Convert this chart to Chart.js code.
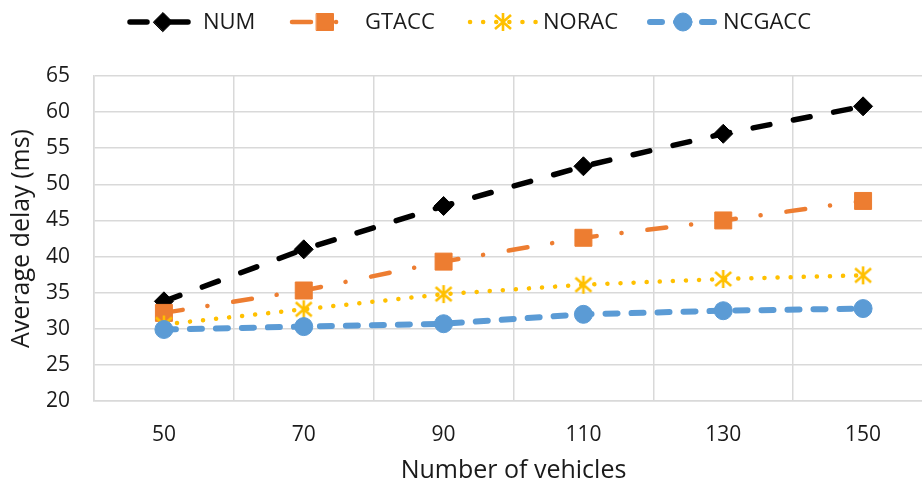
<!DOCTYPE html>
<html>
<head>
<meta charset="utf-8">
<script src="https://cdn.jsdelivr.net/npm/chart.js@4/dist/chart.umd.min.js"></script>
<style>
  html, body { margin: 0; padding: 0; background: #fff; overflow: hidden; }
  #wrap { width: 922px; height: 486px; overflow: hidden; position: relative; }
  #chart { position: absolute; left: 0; top: 0; width: 935px; height: 486px; }
</style>
</head>
<body>
<div id="wrap"><canvas id="chart" width="935" height="486"></canvas></div>
<script>
// chart data
const vehicles = ['50', '70', '90', '110', '130', '150'];
const numDelay = [33.8, 41.0, 47.0, 52.5, 57.0, 60.8];
const gtaccDelay = [32.2, 35.3, 39.3, 42.6, 45.0, 47.7];
const noracDelay = [30.6, 32.7, 34.8, 36.1, 36.9, 37.4];
const ncgaccDelay = [29.9, 30.3, 30.7, 32.0, 32.5, 32.8];
const yTicks = [20, 25, 30, 35, 40, 45, 50, 55, 60, 65];

const FONT = 'Open Sans';
const TEXT = '#1a1a1a';
const PLOT_RIGHT = 933; // plot runs a bit past the visible window, like the source

// Excel style asterisk marker (X plus vertical bar)
function makeStar(color) {
    const c = document.createElement('canvas');
    c.width = 20;
    c.height = 20;
    const g = c.getContext('2d');
    g.strokeStyle = color;
    g.lineWidth = 2.6;
    g.beginPath();
    g.moveTo(10, 1); g.lineTo(10, 19);
    g.moveTo(2, 3); g.lineTo(18, 17);
    g.moveTo(18, 3); g.lineTo(2, 17);
    g.stroke();
    return c;
}
const starImg = makeStar('#FFC000');

const series = [
    { label: 'NUM', data: numDelay, color: '#000000', dash: [17, 24], width: 5.5, point: 'rectRot', radius: 9.5, order: 4 },
    { label: 'GTACC', data: gtaccDelay, color: '#ED7D31', dash: [19, 25, 0.1, 26], width: 4.5, point: 'rect', radius: 12, order: 3 },
    { label: 'NORAC', data: noracDelay, color: '#FFC000', dash: [0.1, 13], width: 4.5, point: starImg, radius: 9, order: 2 },
    { label: 'NCGACC', data: ncgaccDelay, color: '#5B9BD5', dash: [12, 14], width: 6, point: 'circle', radius: 9, order: 1 }
];

// legend drawn by hand: line sample with marker in the middle, like Excel
const legendPlugin = {
    id: 'excelLegend',
    afterDraw(chart) {
        const ctx = chart.ctx;
        const starts = [128, 290, 468, 648];
        const y = 22;
        series.forEach((s, i) => {
            const x0 = starts[i];
            ctx.save();
            ctx.strokeStyle = s.color;
            ctx.lineWidth = s.width;
            ctx.lineCap = 'round';
            ctx.setLineDash(s.dash);
            ctx.beginPath();
            ctx.moveTo(x0 + 2, y);
            ctx.lineTo(x0 + 68, y);
            ctx.stroke();
            ctx.setLineDash([]);
            ctx.fillStyle = s.color;
            ctx.lineWidth = 1;
            Chart.helpers.drawPoint(ctx, { pointStyle: s.point, radius: s.radius, borderWidth: 1 }, x0 + 35, y);
            ctx.restore();
            ctx.save();
            ctx.fillStyle = TEXT;
            ctx.font = '22px "' + FONT + '"';
            ctx.textBaseline = 'middle';
            ctx.fillText(s.label, x0 + 75, y + 1);
            ctx.restore();
        });
    }
};

const ctx = document.getElementById('chart').getContext('2d');

const chart = new Chart(ctx, {
    type: 'line',
    data: {
        labels: vehicles,
        datasets: series.map(s => ({
            label: s.label,
            data: s.data,
            order: s.order,
            borderColor: s.color,
            backgroundColor: s.color,
            borderWidth: s.width,
            borderDash: s.dash,
            borderCapStyle: 'round',
            pointStyle: s.point,
            pointRadius: s.radius,
            pointBorderWidth: 1,
            pointBorderColor: s.color,
            pointBackgroundColor: s.color,
            tension: 0,
            fill: false,
            clip: false
        }))
    },
    options: {
        responsive: false,
        animation: false,
        layout: { autoPadding: false, padding: { top: 76, right: 2, left: 0, bottom: 0 } },
        plugins: {
            legend: { display: false },
            tooltip: { enabled: false }
        },
        scales: {
            x: {
                offset: true,
                grid: { offset: true, color: '#D9D9D9', lineWidth: 1.5, drawTicks: false },
                border: { color: '#D9D9D9', width: 1.5 },
                ticks: { color: TEXT, font: { family: FONT, size: 21 }, padding: 21 },
                title: {
                    display: true,
                    text: 'Number of vehicles',
                    color: TEXT,
                    font: { family: FONT, size: 25 },
                    padding: { top: 0, bottom: 0 }
                },
                afterFit(scale) { scale.height = 85; }
            },
            y: {
                min: 20,
                max: 65,
                afterBuildTicks(scale) { scale.ticks = yTicks.map(v => ({ value: v })); },
                grid: { color: '#D9D9D9', lineWidth: 1.5, drawTicks: false },
                border: { color: '#D9D9D9', width: 1.5 },
                ticks: { color: TEXT, font: { family: FONT, size: 21 }, padding: 24 },
                title: {
                    display: true,
                    text: 'Average delay (ms)',
                    color: TEXT,
                    font: { family: FONT, size: 25 },
                    padding: { top: 7, bottom: 0 }
                },
                afterFit(scale) { scale.width = 94; }
            }
        }
    },
    plugins: [legendPlugin]
});

// nudge the right padding so the plot ends where the source's does
const diff = chart.chartArea.right - PLOT_RIGHT;
if (Math.abs(diff) > 0.5) {
    chart.options.layout.padding.right += diff;
    chart.update();
}
</script>
</body>
</html>
